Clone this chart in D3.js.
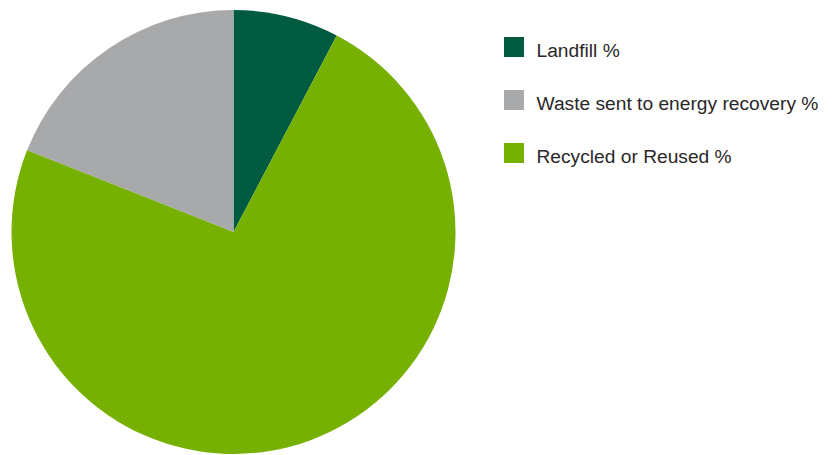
<!DOCTYPE html>
<html>
<head>
<meta charset="utf-8">
<script src="https://cdn.jsdelivr.net/npm/d3@7"></script>
<style>
  html, body { margin: 0; padding: 0; background: #ffffff; }
  svg { display: block; }
  .legend text { font-family: "Liberation Sans", Arial, sans-serif; font-size: 19.2px; fill: #2a2728; }
</style>
</head>
<body>
<svg id="chart" width="833" height="455"></svg>
<script>
// Waste disposal shares (%)
const categories = ["Landfill %", "Waste sent to energy recovery %", "Recycled or Reused %"];
const values = [7.7, 19.0, 73.3];
const colors = ["#005b41", "#a8a9ab", "#76b000"];

// Slices run clockwise from 12 o'clock: landfill, recycled, then energy recovery
const pieOrder = [0, 2, 1];

const svg = d3.select("#chart");
const cx = 233.5, cy = 232, radius = 222;

const color = d3.scaleOrdinal().domain(categories).range(colors);

const pie = d3.pie()
  .sort((a, b) => pieOrder.indexOf(a.i) - pieOrder.indexOf(b.i))
  .value(d => d.v);

const data = categories.map((c, i) => ({ c, v: values[i], i }));
const arc = d3.arc().innerRadius(0).outerRadius(radius);

svg.append("g")
  .attr("transform", `translate(${cx},${cy})`)
  .selectAll("path")
  .data(pie(data))
  .join("path")
  .attr("d", arc)
  .attr("fill", d => color(d.data.c));

// Legend
const legendY = d3.scalePoint().domain(categories).range([57, 163]);
const legend = svg.append("g").attr("class", "legend");
const item = legend.selectAll("g")
  .data(categories)
  .join("g")
  .attr("transform", c => `translate(504,${legendY(c)})`);

item.append("rect")
  .attr("x", 0).attr("y", -20)
  .attr("width", 20).attr("height", 20)
  .attr("fill", c => color(c));

item.append("text")
  .attr("x", 32.5).attr("y", 0)
  .text(c => c);
</script>
</body>
</html>
